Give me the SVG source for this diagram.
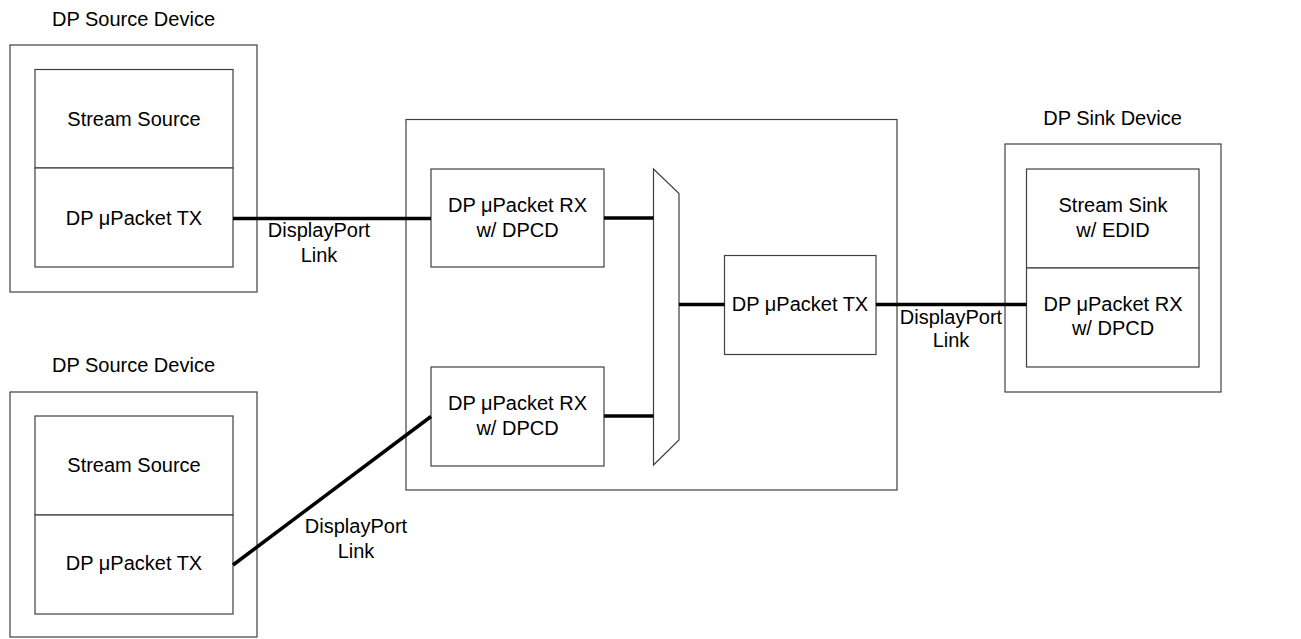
<svg xmlns="http://www.w3.org/2000/svg" width="1301" height="639" viewBox="0 0 1301 639">
<style>
.box{fill:#fff;stroke:#404040;stroke-width:1.2}
.t{font-family:"Liberation Sans",Arial,sans-serif;font-size:20px;fill:#000;text-anchor:middle}
.link{stroke:#000;stroke-width:3.5;fill:none}
</style>
<rect width="1301" height="639" fill="#fff"/>
<g id="src1">
<text class="t" x="133.5" y="26">DP Source Device</text>
<rect class="box" x="10" y="45" width="247" height="247"/>
<rect class="box" x="35" y="69.5" width="198" height="98.5"/>
<rect class="box" x="35" y="168" width="198" height="99"/>
<text class="t" x="134" y="126">Stream Source</text>
<text class="t" x="134" y="225">DP μPacket TX</text>
</g>
<g id="src2">
<text class="t" x="133.5" y="372">DP Source Device</text>
<rect class="box" x="10" y="392" width="247" height="245"/>
<rect class="box" x="35" y="416" width="198" height="99"/>
<rect class="box" x="35" y="515" width="198" height="99"/>
<text class="t" x="134" y="472">Stream Source</text>
<text class="t" x="134" y="570">DP μPacket TX</text>
</g>
<g id="branch">
<rect class="box" x="406" y="119.5" width="491" height="370.5"/>
</g>
<g id="rx1">
<rect class="box" x="431" y="169" width="173" height="98"/>
<text class="t" x="517.5" y="212">DP μPacket RX</text>
<text class="t" x="517.5" y="237">w/ DPCD</text>
</g>
<g id="rx2">
<rect class="box" x="431" y="367" width="173" height="99"/>
<text class="t" x="517.5" y="410">DP μPacket RX</text>
<text class="t" x="517.5" y="435">w/ DPCD</text>
</g>
<g id="mux">
<polygon class="box" points="653.5,169 679,193.5 679,440 653.5,465"/>
</g>
<g id="tx">
<rect class="box" x="724.5" y="255.5" width="151.5" height="99"/>
<text class="t" x="800" y="311">DP μPacket TX</text>
</g>
<g id="sink">
<text class="t" x="1112.5" y="125">DP Sink Device</text>
<rect class="box" x="1005" y="144" width="216" height="248"/>
<rect class="box" x="1026.5" y="169" width="172.5" height="99"/>
<rect class="box" x="1026.5" y="268" width="172.5" height="99"/>
<text class="t" x="1113" y="212">Stream Sink</text>
<text class="t" x="1113" y="237">w/ EDID</text>
<text class="t" x="1113" y="311">DP μPacket RX</text>
<text class="t" x="1113" y="335">w/ DPCD</text>
</g>
<g id="connectors">
<line class="link" x1="233" y1="218.5" x2="431" y2="218.5"/>
<line class="link" x1="604" y1="218" x2="653.5" y2="218"/>
<line class="link" x1="604" y1="416" x2="653.5" y2="416"/>
<line class="link" x1="679" y1="304.5" x2="724.5" y2="304.5"/>
<line class="link" x1="876" y1="304.5" x2="1026.5" y2="304.5"/>
<line class="link" x1="233" y1="565" x2="431" y2="416.5"/>
<text class="t" x="319" y="237">DisplayPort</text>
<text class="t" x="319" y="262">Link</text>
<text class="t" x="356" y="533">DisplayPort</text>
<text class="t" x="356" y="558">Link</text>
<text class="t" x="951" y="324">DisplayPort</text>
<text class="t" x="951" y="347">Link</text>
</g>
</svg>
